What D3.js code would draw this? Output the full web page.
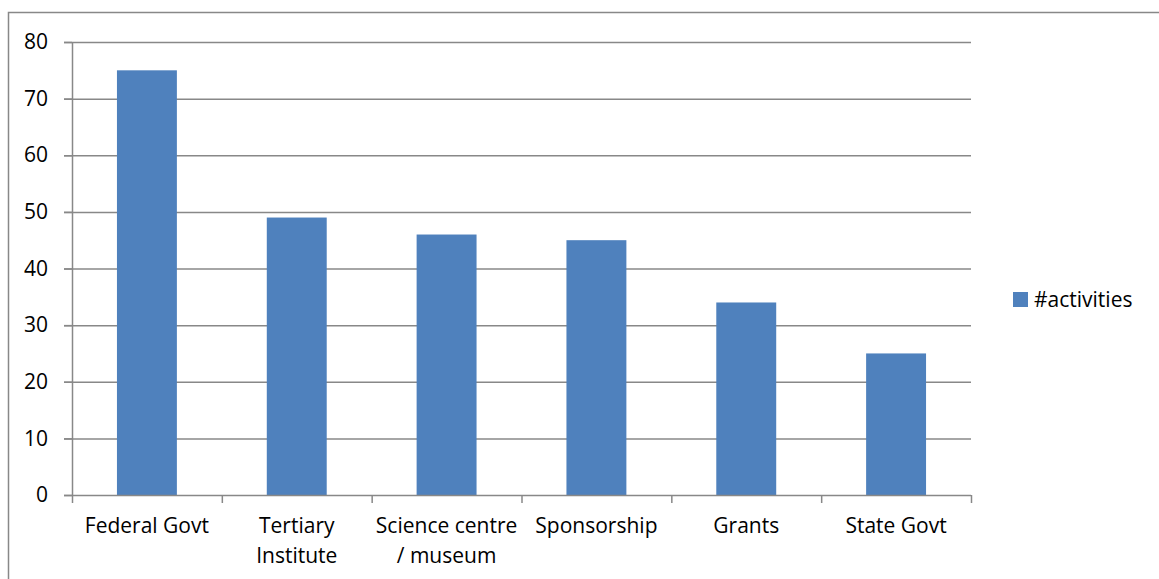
<!DOCTYPE html>
<html>
<head>
<meta charset="utf-8">
<script src="https://cdn.jsdelivr.net/npm/d3@7"></script>
<style>
  body { margin: 0; background: #fff; }
  svg { display: block; font-family: "Open Sans", "Noto Sans", sans-serif; }
</style>
</head>
<body>
<svg width="1159" height="579"></svg>
<script>
const categories = [["Federal Govt"], ["Tertiary", "Institute"], ["Science centre", "/ museum"], ["Sponsorship"], ["Grants"], ["State Govt"]];
const values = [75, 49, 46, 45, 34, 25];
const yTicks = [0, 10, 20, 30, 40, 50, 60, 70, 80];
const seriesName = "#activities";

const svg = d3.select("svg"),
  margin = { top: 42, left: 72 },
  width = 899,
  height = 453;

// outer frame
svg.append("rect")
  .attr("x", 8.5).attr("y", 12.5)
  .attr("width", 1160).attr("height", 600)
  .attr("fill", "none").attr("stroke", "#888").attr("stroke-width", 1.5);

const keys = categories.map(c => c.join(" "));
const x = d3.scaleBand().domain(keys).range([0, width]).paddingInner(0).paddingOuter(0);
const y = d3.scaleLinear().domain([0, 80]).range([height, 0]);

const g = svg.append("g")
  .attr("transform", "translate(" + margin.left + "," + margin.top + ")");

// gridlines
g.selectAll(".grid")
  .data(yTicks.filter(d => d > 0))
  .enter()
  .append("line")
  .attr("x1", -8).attr("x2", width)
  .attr("y1", d => y(d) + 0.5).attr("y2", d => y(d) + 0.5)
  .attr("stroke", "#888").attr("stroke-width", 1.5);

// bars
const bw = x.bandwidth() * 0.4;
g.selectAll(".bar")
  .data(values)
  .enter()
  .append("rect")
  .attr("fill", "#4f81bd")
  .attr("x", (d, i) => x(keys[i]) + (x.bandwidth() - bw) / 2)
  .attr("y", d => y(d))
  .attr("width", bw)
  .attr("height", d => height - y(d));

// y axis
const yAxis = g.append("g")
  .call(d3.axisLeft(y).tickValues(yTicks).tickSize(8).tickPadding(16).tickFormat(d3.format("d")));
yAxis.attr("font-size", null).attr("font-family", null);
yAxis.select(".domain").attr("stroke", "#888").attr("stroke-width", 1.5).attr("d", "M0.5,0V" + (height + 0.5));
yAxis.selectAll(".tick line").attr("stroke", "#888").attr("stroke-width", 1.5);
yAxis.selectAll(".tick text").attr("font-size", 21).attr("fill", "#000");

// x axis
const xAxis = g.append("g")
  .attr("transform", "translate(0," + height + ")");
xAxis.append("line")
  .attr("x1", -8).attr("x2", width)
  .attr("y1", 0.5).attr("y2", 0.5)
  .attr("stroke", "#888").attr("stroke-width", 1.5);
xAxis.selectAll(".xtick")
  .data(d3.range(keys.length + 1))
  .enter()
  .append("line")
  .attr("x1", i => (i < keys.length ? x(keys[i]) : width) + 0.5)
  .attr("x2", i => (i < keys.length ? x(keys[i]) : width) + 0.5)
  .attr("y1", 0).attr("y2", 8)
  .attr("stroke", "#888").attr("stroke-width", 1.5);

const labels = xAxis.selectAll(".xlabel")
  .data(categories)
  .enter()
  .append("text")
  .attr("text-anchor", "middle")
  .attr("font-size", 21)
  .attr("x", (d, i) => x(keys[i]) + x.bandwidth() / 2)
  .attr("y", 38);
labels.selectAll("tspan")
  .data(d => d)
  .enter()
  .append("tspan")
  .attr("x", function() { return d3.select(this.parentNode).attr("x"); })
  .attr("dy", (d, i) => i === 0 ? 0 : 30)
  .text(d => d);

// legend
const legend = svg.append("g").attr("transform", "translate(1013,292)");
legend.append("rect").attr("width", 15).attr("height", 15).attr("fill", "#4f81bd");
legend.append("text")
  .attr("x", 21).attr("y", 15)
  .attr("font-size", 21)
  .text(seriesName);
</script>
</body>
</html>
